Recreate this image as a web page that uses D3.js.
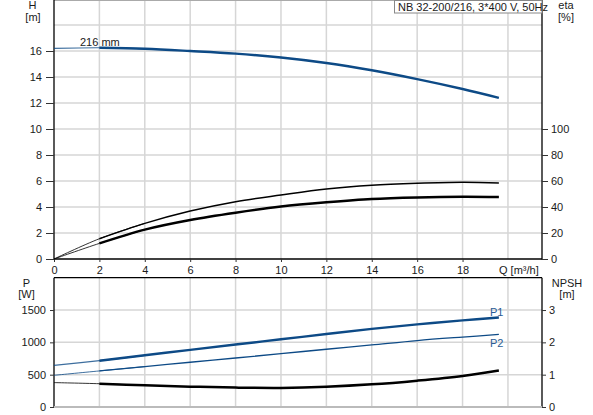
<!DOCTYPE html>
<html>
<head>
<meta charset="utf-8">
<script src="https://cdn.jsdelivr.net/npm/d3@7"></script>
<style>
  body { margin: 0; background: #fff; }
  svg { display: block; font-family: "Liberation Sans", Arial, sans-serif; }
  .tick text { font-size: 11px; fill: #1a1a1a; }
  .lbl { font-size: 11px; fill: #1a1a1a; }
</style>
</head>
<body>
<svg id="chart" width="593" height="415"></svg>
<script>
// pump curves, Q in m3/h
var q        = [0, 2, 4, 6, 8, 10, 12, 14, 16, 18, 19.6];
var head     = [16.2, 16.25, 16.17, 16.0, 15.8, 15.5, 15.08, 14.52, 13.84, 13.08, 12.4];
var etaTotal = [0, 15.6, 27.4, 36.9, 44.1, 49.2, 53.8, 56.7, 58.2, 59, 58.5];
var etaPump  = [0, 12.0, 22.6, 30, 35.6, 40.3, 43.6, 46.2, 47.4, 47.9, 47.7];
var p1       = [645, 716, 800, 884, 966, 1047, 1129, 1208, 1278, 1340, 1385];
var p2       = [490, 558, 625, 692, 758, 825, 893, 960, 1028, 1082, 1122];
var npsh     = [0.755, 0.72, 0.67, 0.63, 0.60, 0.59, 0.625, 0.70, 0.815, 0.96, 1.13];

var qTicks    = [0, 2, 4, 6, 8, 10, 12, 14, 16, 18];
var hTicks    = [0, 2, 4, 6, 8, 10, 12, 14, 16];
var hGrid     = [2, 4, 6, 8, 10, 12, 14, 16, 18];
var etaTicks  = [0, 20, 40, 60, 80, 100];
var pTicks    = [0, 500, 1000, 1500];
var npshTicks = [0, 1, 2, 3];

var blue = '#0d4a86';
var grid = '#d6d6d6';

var svg = d3.select('#chart');

var x    = d3.scaleLinear().domain([0, 21.5]).range([54, 542]);
var yH   = d3.scaleLinear().domain([0, 20]).range([259, -1]);
var yEta = d3.scaleLinear().domain([0, 100]).range([259, 129]);
var yP   = d3.scaleLinear().domain([0, 2000]).range([407, 277.7]);
var yN   = d3.scaleLinear().domain([0, 4]).range([407, 277.7]);

/**********************************************************************/
// grids
var gTop = svg.append('g');
gTop.selectAll('.vg').data(d3.range(2, 21, 2)).enter().append('line')
  .attr('x1', d => x(d)).attr('x2', d => x(d))
  .attr('y1', 0).attr('y2', 259)
  .attr('stroke', grid).attr('stroke-width', 1.5);
gTop.selectAll('.hg').data(hGrid).enter().append('line')
  .attr('x1', 54).attr('x2', 542)
  .attr('y1', d => yH(d)).attr('y2', d => yH(d))
  .attr('stroke', grid).attr('stroke-width', 1.5);

var gBot = svg.append('g');
gBot.selectAll('.vg').data(d3.range(2, 21, 2)).enter().append('line')
  .attr('x1', d => x(d)).attr('x2', d => x(d))
  .attr('y1', 278).attr('y2', 407)
  .attr('stroke', grid).attr('stroke-width', 1.5);
gBot.selectAll('.hg').data([500, 1000, 1500]).enter().append('line')
  .attr('x1', 54).attr('x2', 542)
  .attr('y1', d => yP(d)).attr('y2', d => yP(d))
  .attr('stroke', grid).attr('stroke-width', 1.5);

/**********************************************************************/
// frames
svg.append('line').attr('x1', 54).attr('x2', 542).attr('y1', 0.5).attr('y2', 0.5)
  .attr('stroke', '#aaa');
svg.append('line').attr('x1', 54).attr('x2', 54).attr('y1', 0).attr('y2', 259.5)
  .attr('stroke', '#000').attr('stroke-width', 1.3);
svg.append('line').attr('x1', 542).attr('x2', 542).attr('y1', 0).attr('y2', 259.5)
  .attr('stroke', '#000').attr('stroke-width', 1.3);
svg.append('line').attr('x1', 54).attr('x2', 542).attr('y1', 259).attr('y2', 259)
  .attr('stroke', '#000').attr('stroke-width', 1.3);

svg.append('line').attr('x1', 54).attr('x2', 542).attr('y1', 277.7).attr('y2', 277.7)
  .attr('stroke', '#000').attr('stroke-width', 1.2);
svg.append('line').attr('x1', 54).attr('x2', 54).attr('y1', 277.7).attr('y2', 407)
  .attr('stroke', '#000').attr('stroke-width', 1.3);
svg.append('line').attr('x1', 542).attr('x2', 542).attr('y1', 277.7).attr('y2', 407)
  .attr('stroke', '#000').attr('stroke-width', 1.3);
svg.append('line').attr('x1', 54).attr('x2', 542).attr('y1', 407).attr('y2', 407)
  .attr('stroke', '#bbb').attr('stroke-width', 2);

/**********************************************************************/
// axes
var fmt = d3.format('d');
function clean(g) { g.select('.domain').remove(); g.selectAll('.tick line').attr('stroke', '#333'); }

svg.append('g').attr('transform', 'translate(54,0)')
  .call(d3.axisLeft(yH).tickValues(hTicks).tickFormat(fmt).tickSize(8).tickPadding(4)).call(clean);
svg.append('g').attr('transform', 'translate(542,0)')
  .call(d3.axisRight(yEta).tickValues(etaTicks).tickFormat(fmt).tickSize(6).tickPadding(3)).call(clean);
svg.append('g').attr('transform', 'translate(0,259)')
  .call(d3.axisBottom(x).tickValues(qTicks).tickFormat(fmt).tickSize(3).tickPadding(4)).call(clean);
svg.append('g').attr('transform', 'translate(54,0)')
  .call(d3.axisLeft(yP).tickValues(pTicks).tickFormat(fmt).tickSize(4).tickPadding(4)).call(clean);
svg.append('g').attr('transform', 'translate(542,0)')
  .call(d3.axisRight(yN).tickValues(npshTicks).tickFormat(fmt).tickSize(4).tickPadding(3)).call(clean);

// axis titles
function label(txt, lx, ly, anchor, color) {
  svg.append('text').attr('class', 'lbl')
    .attr('x', lx).attr('y', ly)
    .attr('text-anchor', anchor || 'middle')
    .attr('dominant-baseline', 'central')
    .style('fill', color || '#1a1a1a')
    .text(txt);
}
label('H', 32.5, 5);
label('[m]', 33, 17);
label('eta', 566, 5);
label('[%]', 566, 17);
label('Q [m³/h]', 499, 270, 'start');
label('P', 26.5, 282.5);
label('[W]', 26.5, 294);
label('NPSH', 567, 282.5);
label('[m]', 567, 294);

/**********************************************************************/
// curves: thin part up to Q=2, heavier from there on
var line = d3.line().curve(d3.curveCatmullRom.alpha(0.5));

function curve(vals, yScale, color, wThin, wThick) {
  var pts = q.map((d, i) => [x(d), yScale(vals[i])]);
  svg.append('path').attr('d', line(pts.slice(0, 3)))
    .attr('fill', 'none').attr('stroke', color).attr('stroke-width', wThin).attr('opacity', 0.8);
  svg.append('path').attr('d', line(pts.slice(1)))
    .attr('fill', 'none').attr('stroke', color).attr('stroke-width', wThick);
}

curve(head, yH, blue, 1.2, 2.4);
curve(etaTotal, yEta, '#000', 1, 1.5);
curve(etaPump, yEta, '#000', 1, 2.5);
curve(p1, yP, blue, 1.2, 2.4);
curve(p2, yP, blue, 1, 1.3);
curve(npsh, yN, '#000', 1, 2.5);

label('216 mm', 80, 42, 'start');
label('P1', 490, 311.5, 'start', '#2a5c96');
label('P2', 490, 342.5, 'start', '#2a5c96');

// legend box
svg.append('rect').attr('x', 394.5).attr('y', 0.5).attr('width', 147.5).attr('height', 12.5)
  .attr('fill', '#fff').attr('stroke', '#888');
label('NB 32-200/216, 3*400 V, 50Hz', 398, 7, 'start');
</script>
</body>
</html>
